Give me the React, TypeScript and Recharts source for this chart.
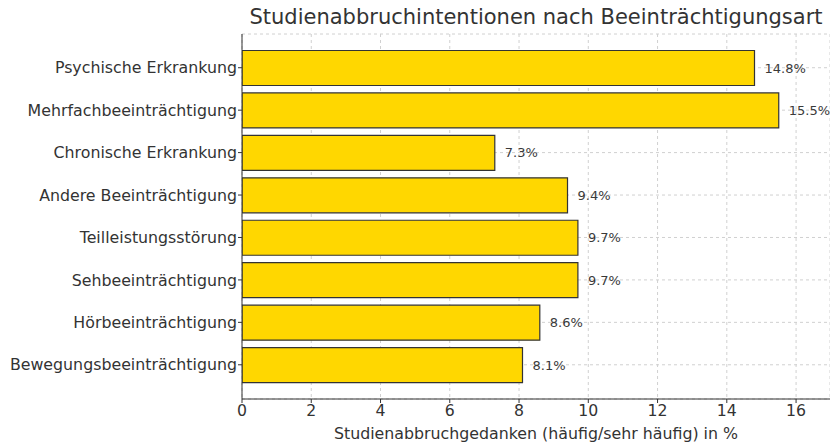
import React from "react";
import { BarChart, Bar, XAxis, YAxis, CartesianGrid, LabelList, Label } from "recharts";

const categories = [
  "Psychische Erkrankung",
  "Mehrfachbeeinträchtigung",
  "Chronische Erkrankung",
  "Andere Beeinträchtigung",
  "Teilleistungsstörung",
  "Sehbeeinträchtigung",
  "Hörbeeinträchtigung",
  "Bewegungsbeeinträchtigung",
];
const values = [14.8, 15.5, 7.3, 9.4, 9.7, 9.7, 8.6, 8.1];
const xTicks = [0, 2, 4, 6, 8, 10, 12, 14, 16];

const data = categories.map((name, i) => ({ name, value: values[i] }));

const FONT = "'DejaVu Sans', sans-serif";

export default function App() {
  return (
    <div style={{ position: "relative", width: 830, height: 443, fontFamily: FONT }}>
      <style>{`html,body{margin:0;padding:0;overflow:hidden;}`}</style>
      <div
        style={{
          position: "absolute",
          left: 242,
          width: 588,
          top: 4,
          textAlign: "center",
          fontSize: 21,
          lineHeight: "26px",
          color: "#333",
          fontFamily: FONT,
          whiteSpace: "nowrap",
        }}
      >
        Studienabbruchintentionen nach Beeinträchtigungsart
      </div>
      <BarChart
        width={830}
        height={443}
        data={data}
        layout="vertical"
        margin={{ top: 34, right: 0, bottom: 0, left: 0 }}
        barCategoryGap={0}
      >
        <CartesianGrid stroke="#d0d0d0" strokeDasharray="3 3" />
        <XAxis
          type="number"
          domain={[0, 16.98]}
          ticks={xTicks}
          height={44}
          tickSize={4}
          tickMargin={2}
          tick={{ fontSize: 15.7, fill: "#333", fontFamily: FONT }}
          axisLine={{ stroke: "#333" }}
          tickLine={{ stroke: "#333" }}
          allowDataOverflow
        >
          <Label
            value="Studienabbruchgedanken (häufig/sehr häufig) in %"
            position="insideBottom"
            offset={4}
            style={{ fontSize: 15.8, fill: "#333", fontFamily: FONT }}
          />
        </XAxis>
        <YAxis
          type="category"
          dataKey="name"
          width={242}
          tickSize={4}
          tickMargin={1}
          padding={{ top: 12.5, bottom: 13 }}
          tick={{ fontSize: 15.8, fill: "#333", fontFamily: FONT }}
          axisLine={{ stroke: "#333" }}
          tickLine={{ stroke: "#333" }}
        />
        <Bar dataKey="value" fill="#FFD700" stroke="#333" strokeWidth={1.2} barSize={35} isAnimationActive={false}>
          <LabelList
            dataKey="value"
            position="right"
            offset={10}
            formatter={(v: number) => `${v}%`}
            style={{ fontSize: 13, fill: "#3a3a3a", fontFamily: FONT }}
          />
        </Bar>
      </BarChart>
    </div>
  );
}
